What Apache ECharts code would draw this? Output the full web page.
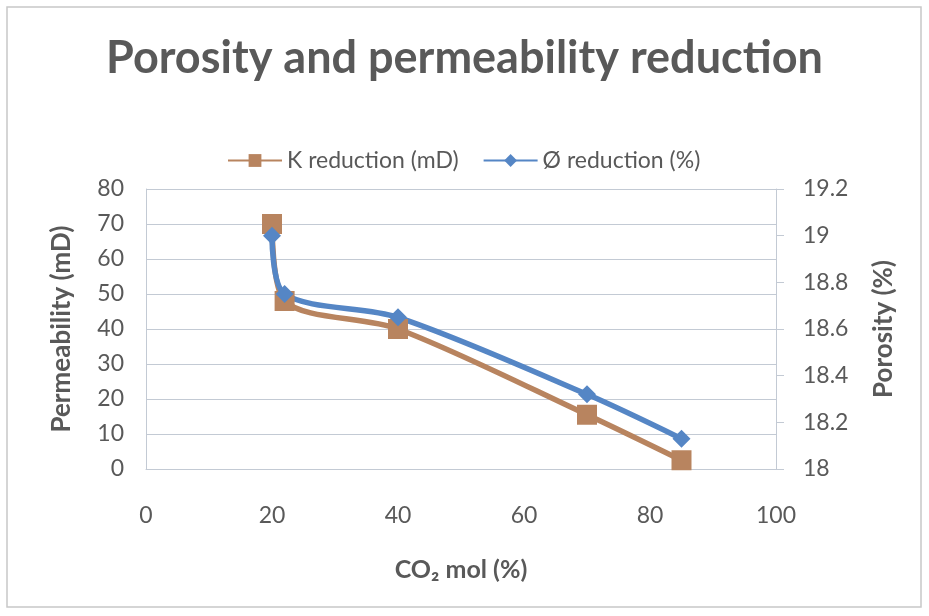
<!DOCTYPE html>
<html>
<head>
<meta charset="utf-8">
<script src="https://cdn.jsdelivr.net/npm/echarts@6/dist/echarts.min.js"></script>
<style>
  html, body { margin: 0; padding: 0; background: #fff; }
  #chart { width: 929px; height: 616px; }
</style>
</head>
<body>
<div id="chart"></div>
<script>
// CO2 mol (%) at each measurement
const co2 = [20, 22, 40, 70, 85]
// permeability reduction, mD (left axis)
const kReduction = [70, 48, 40, 15.5, 2.5]
// porosity reduction, % (right axis)
const phiReduction = [19.0, 18.75, 18.65, 18.32, 18.13]

const BROWN = '#b8845f'
const BLUE = '#5586c5'
const TEXT = '#595959'
const GRID = '#c3cad4'
const FONT = 'Lato'

const chart = echarts.init(document.getElementById('chart'))
chart.setOption({
  animation: false,
  textStyle: { fontFamily: FONT },
  graphic: [{
    type: 'rect', shape: { x: 7, y: 7, width: 914, height: 600 },
    style: { fill: 'none', stroke: '#c8c8c8', lineWidth: 1.5 }
  }],
  title: {
    text: 'Porosity and permeability reduction',
    left: 'center', top: 31,
    textStyle: { fontFamily: FONT, fontSize: 45, fontWeight: 'bold', color: TEXT }
  },
  legend: {
    top: 144, left: 222, itemGap: 24, itemWidth: 54, itemHeight: 16,
    textStyle: { fontFamily: FONT, fontSize: 23, color: TEXT }
  },
  grid: { left: 146, right: 153, top: 189, bottom: 147 },
  xAxis: {
    type: 'value', min: 0, max: 100, interval: 20,
    name: 'CO₂ mol (%)', nameLocation: 'middle', nameGap: 88,
    nameTextStyle: { fontFamily: FONT, fontSize: 25, fontWeight: 'bold', color: TEXT },
    axisLine: { show: true, lineStyle: { color: GRID } },
    axisTick: { show: false },
    axisLabel: { margin: 35, fontSize: 23, color: TEXT, fontFamily: FONT },
    splitLine: { show: false }
  },
  yAxis: [{
    type: 'value', min: 0, max: 80, interval: 10,
    name: 'Permeability (mD)', nameLocation: 'middle', nameGap: 71, nameRotate: 90,
    nameTextStyle: { fontFamily: FONT, fontSize: 26, fontWeight: 'bold', color: TEXT },
    axisLine: { show: true, lineStyle: { color: GRID } },
    axisTick: { show: false },
    axisLabel: { margin: 22, fontSize: 23, color: TEXT, fontFamily: FONT },
    splitLine: { lineStyle: { color: GRID, width: 1.2 } }
  }, {
    type: 'value', min: 18, max: 19.2, interval: 0.2, position: 'right',
    name: 'Porosity (%)', nameLocation: 'middle', nameGap: 95, nameRotate: 90,
    nameTextStyle: { fontFamily: FONT, fontSize: 26, fontWeight: 'bold', color: TEXT },
    axisLine: { show: true, lineStyle: { color: GRID } },
    axisTick: { show: true, length: 8, lineStyle: { color: GRID } },
    axisLabel: { margin: 27, fontSize: 23, color: TEXT, fontFamily: FONT,
      formatter: v => String(+v.toFixed(1)) },
    splitLine: { show: false }
  }],
  series: [{
    name: 'K reduction (mD)', type: 'line', yAxisIndex: 0,
    data: co2.map((x, i) => [x, kReduction[i]]),
    smooth: 0.3, symbol: 'rect', symbolSize: 20,
    lineStyle: { color: BROWN, width: 5.5 },
    itemStyle: { color: BROWN }
  }, {
    name: 'Ø reduction (%)', type: 'line', yAxisIndex: 1,
    data: co2.map((x, i) => [x, phiReduction[i]]),
    smooth: 0.3, symbol: 'diamond', symbolSize: 18,
    lineStyle: { color: BLUE, width: 5.5 },
    itemStyle: { color: BLUE }
  }]
})
window.addEventListener('resize', () => chart.resize())
</script>
</body>
</html>
